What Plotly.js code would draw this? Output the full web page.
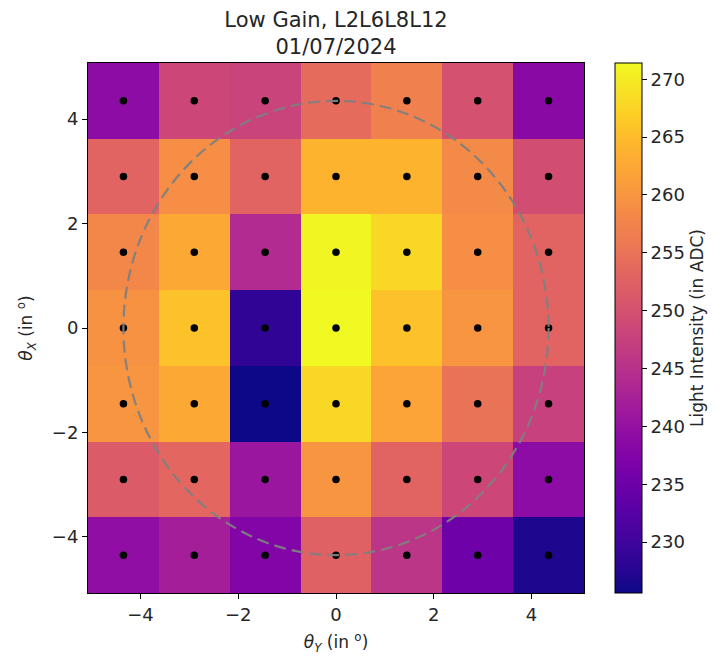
<!DOCTYPE html>
<html>
<head>
<meta charset="utf-8">
<script src="https://cdn.plot.ly/plotly-3.0.1.min.js"></script>
<style>html,body{margin:0;padding:0;background:#fff;}#chart{width:715px;height:658px;}</style>
</head>
<body>
<div id="chart"></div>
<script>
// Cell centres (degrees)
const thetaY = [-4.35, -2.9, -1.45, 0, 1.45, 2.9, 4.35];
const thetaX = [4.35, 2.9, 1.45, 0, -1.45, -2.9, -4.35]; // top row first
// Light intensity (ADC), rows from top (thetaX = 4.35) to bottom (thetaX = -4.35)
const row1 = [239.0, 248.5, 248.0, 254.0, 257.0, 250.0, 238.5];
const row2 = [253.0, 259.0, 253.0, 264.0, 264.0, 258.5, 249.5];
const row3 = [258.0, 262.5, 244.0, 271.0, 268.0, 259.0, 253.0];
const row4 = [259.5, 265.5, 228.5, 271.4, 265.5, 260.0, 253.0];
const row5 = [260.0, 262.5, 225.6, 268.0, 262.0, 255.0, 247.5];
const row6 = [251.5, 253.5, 240.8, 260.0, 253.0, 248.5, 239.0];
const row7 = [239.5, 242.0, 237.5, 252.5, 245.7, 235.3, 227.0];
const circleRadius = [4.35];
const xTicks = [-4, -2, 0, 2, 4];
const yTicks = [-4, -2, 0, 2, 4];
const cbTicks = [230, 235, 240, 245, 250, 255, 260, 265, 270];

const z = [row1, row2, row3, row4, row5, row6, row7];
const allVals = z.flat();
const zmin = Math.min(...allVals), zmax = Math.max(...allVals);

const plasma = [
  [0.0, '#0d0887'], [0.05, '#2a0593'], [0.1, '#41049d'], [0.15, '#5601a4'],
  [0.2, '#6a00a8'], [0.25, '#7e03a8'], [0.3, '#8f0da4'], [0.35, '#a11b9b'],
  [0.4, '#b12a90'], [0.45, '#bf3984'], [0.5, '#cc4778'], [0.55, '#d8576b'],
  [0.6, '#e16462'], [0.65, '#eb7655'], [0.7, '#f2844b'], [0.75, '#f89540'],
  [0.8, '#fca636'], [0.85, '#feb72d'], [0.9, '#fcce25'], [0.95, '#f7e225'],
  [1.0, '#f0f921']
];

const dotX = [], dotY = [];
thetaX.forEach(yv => thetaY.forEach(xv => { dotX.push(xv); dotY.push(yv); }));

const font = 'DejaVu Sans, sans-serif';
const txt = '#262626';

const heat = {
  type: 'heatmap', x: thetaY, y: thetaX, z: z,
  colorscale: plasma, zmin: zmin, zmax: zmax,
  hoverinfo: 'z',
  colorbar: {
    x: (615 - 88) / 496, xanchor: 'left', xpad: 0,
    y: 0.5, yanchor: 'middle', ypad: 0, len: 1, lenmode: 'fraction',
    thickness: 27, outlinewidth: 1, outlinecolor: '#000',
    ticks: 'outside', ticklen: 5, tickcolor: '#000',
    tickvals: cbTicks, ticktext: cbTicks.map(String),
    tickfont: {family: font, size: 18, color: txt},
    title: {text: 'Light Intensity (in ADC)', side: 'right',
            font: {family: font, size: 17, color: txt}}
  }
};

const dots = {
  type: 'scatter', mode: 'markers', x: dotX, y: dotY,
  marker: {color: '#000', size: 7.5}, hoverinfo: 'skip', showlegend: false
};

const axisCommon = {
  showline: true, mirror: true, linecolor: '#000', linewidth: 1,
  ticks: 'outside', ticklen: 5, tickcolor: '#000', showgrid: false, zeroline: false,
  tickfont: {family: font, size: 18, color: txt}
};

const layout = {
  width: 715, height: 658,
  margin: {l: 88, r: 131, t: 63, b: 65, autoexpand: false},
  paper_bgcolor: '#fff', plot_bgcolor: '#fff',
  showlegend: false,
  title: {
    text: 'Low Gain, L2L6L8L12<br>01/07/2024',
    font: {family: font, size: 21, color: txt},
    xref: 'paper', x: 0.5, xanchor: 'center',
    yref: 'container', y: 1 - 27 / 658, yanchor: 'middle'
  },
  xaxis: Object.assign({}, axisCommon, {
    range: [-5.075, 5.075], tickvals: xTicks, ticktext: xTicks.map(v => v < 0 ? '\u2212' + Math.abs(v) : String(v)),
    title: {text: '<i>θ</i><sub><i>Y</i></sub> (in <sup>o</sup>)', font: {family: font, size: 17, color: txt}, standoff: 12}
  }),
  yaxis: Object.assign({}, axisCommon, {
    range: [-5.075, 5.075], tickvals: yTicks, ticktext: yTicks.map(v => v < 0 ? '\u2212' + Math.abs(v) : String(v)),
    title: {text: '<i>θ</i><sub><i>X</i></sub> (in <sup>o</sup>)', font: {family: font, size: 17, color: txt}, standoff: 14}
  }),
  shapes: [{
    type: 'circle', xref: 'x', yref: 'y', layer: 'above',
    x0: -circleRadius[0], x1: circleRadius[0], y0: -circleRadius[0], y1: circleRadius[0],
    line: {color: 'rgba(128,128,128,0.95)', width: 2.2, dash: '12px,6px'}
  }]
};

Plotly.newPlot('chart', [heat, dots], layout, {displayModeBar: false, staticPlot: true});
</script>
</body>
</html>
